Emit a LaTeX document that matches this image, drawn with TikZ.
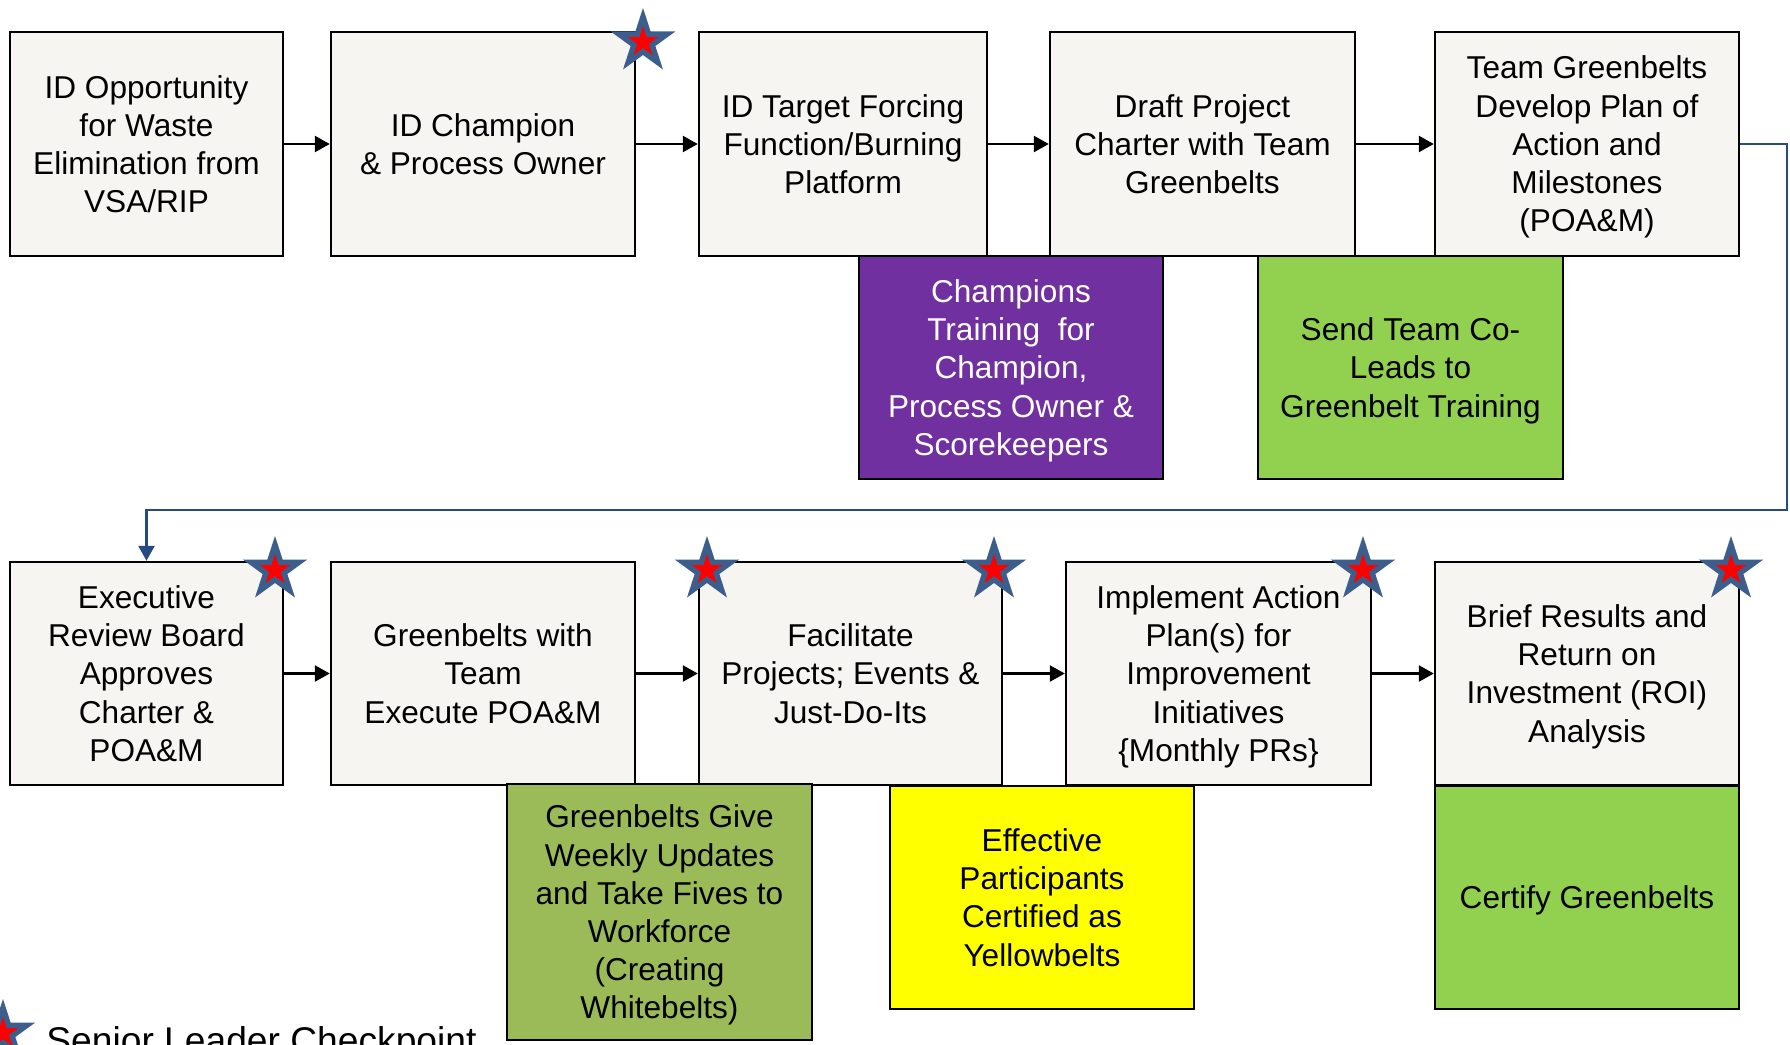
\documentclass[tikz,border=0pt]{standalone}
\usepackage{fontspec}
\setmainfont{Liberation Sans}
\usetikzlibrary{shapes.geometric,arrows.meta}
\definecolor{boxfill}{RGB}{246,245,241}
\definecolor{purplebox}{HTML}{7030A0}
\definecolor{greenbox}{HTML}{92D050}
\definecolor{olivebox}{HTML}{9BBB59}
\definecolor{yellowbox}{HTML}{FFFF00}
\definecolor{linkblue}{RGB}{37,75,130}
\definecolor{starblue}{RGB}{59,94,140}
\newcommand\tstrut{\rule{0pt}{0.93em}}
\begin{document}
\begin{tikzpicture}[x=0.5pt,y=-0.5pt,
  box/.style={draw=black,line width=1.2pt,fill=boxfill,align=center,inner sep=2pt,
    font=\fontsize{15.8}{19.1}\selectfont,
    execute at end node={\rule[-0.212em]{0pt}{0.212em}}},
  topbox/.style={box,minimum height=112pt},
  botbox/.style={box,minimum height=111.5pt},
  flow/.style={line width=1.2pt,-{Triangle[length=7.5pt,width=8pt]}},
  loopline/.style={draw=linkblue,line width=1.3pt,-{Triangle[length=7.5pt,width=8pt]}},
  starout/.style={star,star points=5,star point ratio=2.618,inner sep=0pt,minimum size=34pt,fill=starblue},
  starin/.style={star,star points=5,star point ratio=2.618,inner sep=0pt,minimum size=16pt,fill=red}]
\useasboundingbox[fill=white] (0,0) rectangle (1790,1045);

% top row
\node[topbox,minimum width=136.5pt] (b1) at (146.5,144) {\tstrut ID Opportunity\\for Waste\\Elimination from\\VSA/RIP};
\node[topbox,minimum width=152pt] (b2) at (483,144) {\tstrut ID Champion\\\& Process Owner};
\node[topbox,minimum width=144pt] (b3) at (843,144) {\tstrut ID Target Forcing\\Function/Burning\\Platform};
\node[topbox,minimum width=152.5pt] (b4) at (1202.5,144) {\tstrut Draft Project\\Charter with Team\\Greenbelts};
\node[topbox,minimum width=152pt] (b5) at (1587,144) {\tstrut Team Greenbelts\\Develop Plan of\\Action and\\Milestones\\(POA\&M)};
\node[box,fill=purplebox,text=white,minimum width=152pt,minimum height=111.5pt] (p1) at (1011,367.5)
  {\tstrut Champions\\Training~ for\\Champion,\\Process Owner \&\\Scorekeepers};
\node[box,fill=greenbox,minimum width=152.5pt,minimum height=111.5pt] (g1) at (1410.5,367.5)
  {\tstrut Send Team Co-\\Leads to\\Greenbelt Training};

% bottom row
\node[botbox,minimum width=136.5pt] (b6) at (146.5,673.5) {\tstrut Executive\\Review Board\\Approves\\Charter \&\\POA\&M};
\node[botbox,minimum width=152pt] (b7) at (483,673.5) {\tstrut Greenbelts with\\Team\\Execute POA\&M};
\node[botbox,minimum width=151.5pt] (b8) at (850.5,673.5) {\tstrut Facilitate\\Projects; Events \&\\Just-Do-Its};
\node[botbox,minimum width=152.5pt] (b9) at (1218.5,673.5) {\tstrut Implement Action\\Plan(s) for\\Improvement\\Initiatives\\\{Monthly PRs\}};
\node[botbox,minimum width=152pt] (b10) at (1587,673.5) {\tstrut Brief Results and\\Return on\\Investment (ROI)\\Analysis};
\node[box,fill=olivebox,minimum width=152.5pt,minimum height=128pt] (o1) at (659.5,912)
  {\tstrut Greenbelts Give\\Weekly Updates\\and Take Fives to\\Workforce\\(Creating\\Whitebelts)};
\node[box,fill=yellowbox,minimum width=152pt,minimum height=111.5pt] (y1) at (1042,897.5)
  {\tstrut Effective\\Participants\\Certified as\\Yellowbelts};
\node[box,fill=greenbox,minimum width=152pt,minimum height=111.5pt] (c1) at (1587,897.5)
  {\tstrut Certify Greenbelts};

% connectors
\draw[flow] (b1) -- (b2);
\draw[flow] (b2) -- (b3);
\draw[flow] (b3) -- (b4);
\draw[flow] (b4) -- (b5);
\draw[flow] (b6) -- (b7);
\draw[flow] (b7) -- (b8);
\draw[flow] (b8) -- (b9);
\draw[flow] (b9) -- (b10);
\coordinate (turn) at (1787,510);
\draw[loopline] (b5.east) -| (turn) -| (b6.north);

% senior leader checkpoint stars
\foreach \n/\px/\py in {s1/643/42, s2/275/570, s3/707/570, s4/994/570, s5/1363/570, s6/1731/570, sl/3/1033}{
  \node[starout] (\n o) at (\px,\py) {};
  \node[starin] (\n i) at (\px,\py) {};
}
\node[anchor=base west,inner sep=0pt,font=\fontsize{18.6}{22}\selectfont] (legend) at (46,1053) {Senior Leader Checkpoint};
\end{tikzpicture}
\end{document}
